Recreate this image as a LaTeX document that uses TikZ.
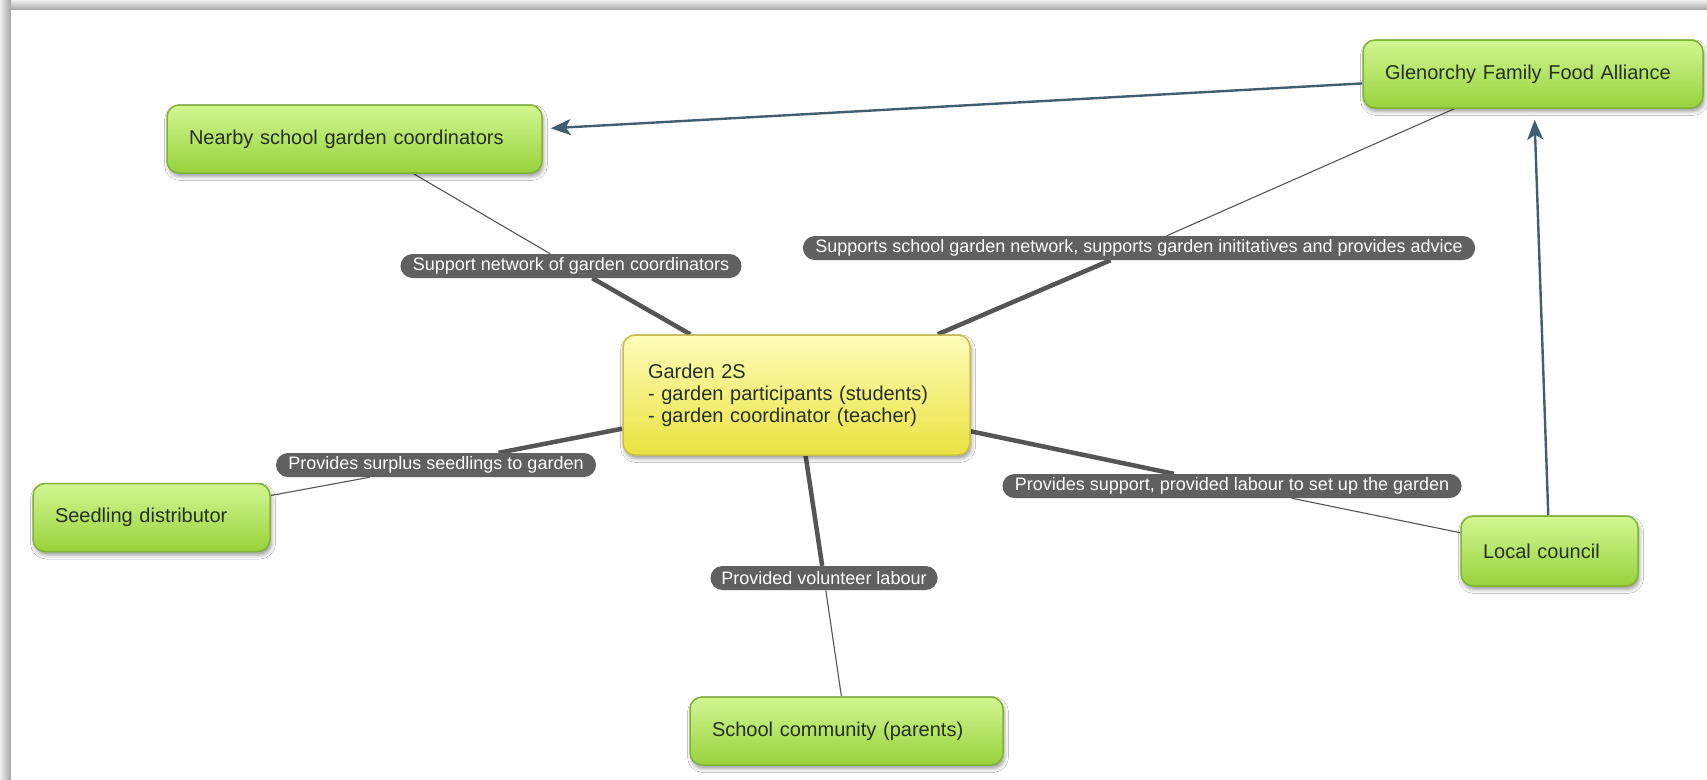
\documentclass[tikz,border=0pt]{standalone}
\usepackage{fontspec}
\setmainfont{Liberation Sans}
\usetikzlibrary{arrows.meta,shapes.misc,shadows.blur,backgrounds}

\definecolor{ctop}{RGB}{210,246,146}
\definecolor{cbot}{RGB}{152,210,60}
\definecolor{cbord}{RGB}{128,178,52}
\definecolor{ytop}{RGB}{254,252,186}
\definecolor{ybot}{RGB}{234,226,64}
\definecolor{ybord}{RGB}{200,190,72}
\definecolor{ctext}{RGB}{38,48,30}
\definecolor{pill}{RGB}{96,96,96}
\definecolor{link}{RGB}{85,85,85}
\definecolor{arrowc}{RGB}{66,94,114}

\tikzset{
  concept/.style={rounded corners=12pt, draw=cbord, line width=1.5pt,
    top color=ctop, bottom color=cbot, text=ctext,
    font=\fontsize{20}{22}\selectfont, align=left,
    inner xsep=22pt, inner ysep=0pt, minimum height=68pt,
    blur shadow={shadow xshift=1.5pt, shadow yshift=-3.5pt,
      shadow blur radius=4pt, shadow opacity=40}},
  central/.style={concept, draw=ybord, top color=ytop, bottom color=ybot,
    inner xsep=25pt},
  phrase/.style={rounded rectangle, fill=pill, text=white,
    font=\fontsize{18}{20}\selectfont, inner xsep=9pt, inner ysep=1pt,
    minimum height=24pt},
  thinlink/.style={draw=link, line width=1.1pt},
  thicklink/.style={draw=link, line width=4.5pt},
  relation/.style={draw=arrowc, line width=2.4pt,
    -{Stealth[length=20pt,width=16pt,inset=5pt]}},
}

\begin{document}
\begin{tikzpicture}[x=1pt,y=-1pt]
\useasboundingbox (0,0) rectangle (1707,779);

% concepts
\node[concept, text width=331pt] (nearby) at (354.5,139) {Nearby school garden coordinators};
\node[concept, text width=296pt] (glen) at (1533,74) {Glenorchy Family Food Alliance};
\node[central, text width=297pt, minimum height=120pt] (garden) at (796.5,395)
  {Garden 2S\\- garden participants (students)\\- garden coordinator (teacher)};
\node[concept, text width=193pt] (seed) at (151.5,517.5) {Seedling distributor};
\node[concept, text width=133pt, minimum height=70pt] (council) at (1549.5,551) {Local council};
\node[concept, text width=269pt] (school) at (846.5,731) {School community (parents)};

% linking phrases
\node[phrase] (l1) at (571,266) {Support network of garden coordinators};
\node[phrase] (l2) at (1139,248) {Supports school garden network, supports garden inititatives and provides advice};
\node[phrase] (l3) at (436,465) {Provides surplus seedlings to garden};
\node[phrase] (l4) at (1232,486) {Provides support, provided labour to set up the garden};
\node[phrase] (l5) at (824,578) {Provided volunteer labour};

\begin{scope}[on background layer]
  % page with its soft shadow along the top and left
  \fill[white] (-5,-5) rectangle (1720,790);
  \shade[top color=black!6, bottom color=black!36] (0,0) rectangle (1720,10);
  \shade[left color=black!6, right color=black!36] (0,0) rectangle (11,790);
  \fill[white] (11,10) rectangle (1720,790);

  % propositions: concept -> phrase (thin), phrase -> centre (thick)
  \draw[thinlink] (nearby) -- (l1);
  \draw[thicklink] (l1) -- (garden);
  \draw[thinlink] (glen) -- (l2);
  \draw[thicklink] (l2) -- (garden);
  \draw[thinlink] (seed) -- (l3);
  \draw[thicklink] (l3) -- (garden);
  \draw[thinlink] (council) -- (l4);
  \draw[thicklink] (l4) -- (garden);
  \draw[thinlink] (school) -- (l5);
  \draw[thicklink] (l5) -- (garden);
\end{scope}

% directed relations
\draw[relation, shorten >=8pt] (glen) -- (nearby);
\draw[relation, shorten >=11pt] (council) -- (glen);
\end{tikzpicture}
\end{document}
